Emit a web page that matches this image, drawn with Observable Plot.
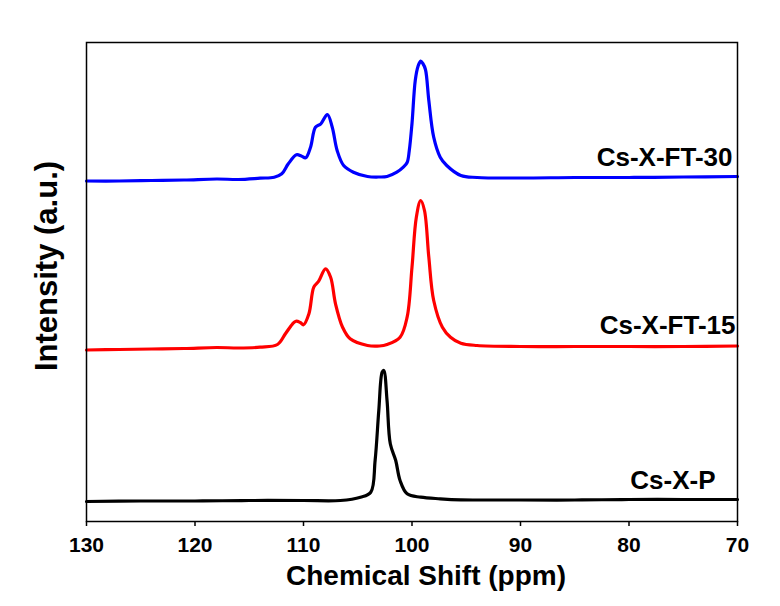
<!DOCTYPE html>
<html><head><meta charset="utf-8">
<script src="https://cdn.jsdelivr.net/npm/d3@7"></script>
<script src="https://cdn.jsdelivr.net/npm/@observablehq/plot@0.6"></script>
<style>html,body{margin:0;padding:0;background:#fff} svg{display:block}</style>
</head><body><div id="chart"></div>
<script>
// Chemical shift (ppm) and stacked intensity (a.u.) for each sample
const ppmFT30 = [130,127,124,121,118,116,114,112.7,112.0,111.4,110.65,110.2,109.8,109.35,108.9,108.4,107.8,107.35,106.9,106.3,105.4,104.1,103,102.3,101.4,100.8,100.45,100.25,100.0,99.7,99.45,99.2,99.0,98.76,98.45,98.0,97.4,96.8,95.5,94,90,85,80,75,70];
const intFT30 = [340.5,340.5,341,341.5,342.5,342,343.3,344.3,347.7,357.7,366.7,365.5,363.7,374.3,394.3,397.7,407,394.3,371,356,349.3,345,344.5,345,349.3,354.3,359,371,398,441,455,460.3,458,452,421,384.3,364.3,356,346,344,343.5,344,344,344.5,345];

const ppmFT15 = [130,127,124,121,118,116,114,112.4,111.65,111.0,110.7,110.3,110.0,109.5,109.05,108.6,107.97,107.5,107.05,106.4,105.7,104.1,103,102.3,101.1,100.45,100.0,99.6,99.2,98.85,98.45,98.0,97.2,96.45,95.5,94,90,85,80,75,70];
const intFT15 = [171.5,172,172.5,173,174,173.5,174.3,177,188,197.7,200.3,199,196.7,207.7,234.3,240.3,252.7,244.3,217.7,194.3,182.7,176,175.5,177,184.3,204.3,254.3,304.3,321,311,264.3,221,194.3,184.3,178.3,176,175,175,175,175,175.5];

const ppmP = [130,125,120,115,110,106.6,104.75,103.8,103.4,103.06,102.75,102.6,102.3,102.0,101.5,101.1,100.45,99.2,97.4,95.5,90,85,80,75,70];
const intP = [20,20.5,20.5,21,21,21,24.3,29.3,61,111,149.3,151,121,77.7,61,41,27.7,24.3,22.7,21.7,21.5,21.5,22,22,22];

const seriesNames = ["Cs-X-FT-30", "Cs-X-FT-15", "Cs-X-P"];
const xTicks = [130, 120, 110, 100, 90, 80, 70];
const xTitle = "Chemical Shift (ppm)";
const yTitle = "Intensity (a.u.)";

const rows = [];
[[ppmFT30, intFT30], [ppmFT15, intFT15], [ppmP, intP]].forEach(([xs, ys], i) => {
  xs.forEach((x, j) => rows.push({series: seriesNames[i], ppm: x, v: ys[j]}));
});
const of = (name) => rows.filter(d => d.series === name);

const chart = Plot.plot({
  width: 780, height: 606,
  marginLeft: 86, marginRight: 43, marginTop: 42, marginBottom: 85,
  style: "font-family: 'Liberation Sans', Arial, sans-serif; font-weight: bold; background: #fff; color: #000;",
  x: {domain: [130, 70]},
  y: {domain: [0, 479], axis: null},
  color: {domain: seriesNames, range: ["#0000ff", "#ff0000", "#000000"]},
  marks: [
    Plot.line(rows, {x: "ppm", y: "v", z: "series", stroke: "series", strokeWidth: 3.2, curve: "catmull-rom"}),
    Plot.frame({stroke: "#000", strokeWidth: 1.5}),
    Plot.axisX({ticks: xTicks, tickSize: 5, tickPadding: 11, fontSize: 21, strokeWidth: 1.5, tickFormat: d => String(d), label: null}),
    Plot.text([xTitle], {text: d => d, frameAnchor: "bottom", textAnchor: "middle", dx: 14, dy: 63, fontSize: 28, fill: "#000"}),
    Plot.text([yTitle], {text: d => d, frameAnchor: "left", textAnchor: "middle", rotate: -90, dx: -39, dy: -16, fontSize: 31, fill: "#000"}),
    Plot.text(of(seriesNames[0]), Plot.selectLast({x: "ppm", y: "v", text: "series", textAnchor: "end", fontSize: 26, dx: -5, dy: -19, fill: "#000"})),
    Plot.text(of(seriesNames[1]), Plot.selectLast({x: "ppm", y: "v", text: "series", textAnchor: "end", fontSize: 26, dx: -2, dy: -20, fill: "#000"})),
    Plot.text(of(seriesNames[2]), Plot.selectLast({x: "ppm", y: "v", text: "series", textAnchor: "end", fontSize: 26, dx: -22, dy: -19, fill: "#000"}))
  ]
});
document.getElementById("chart").appendChild(chart);
</script>
</body></html>
